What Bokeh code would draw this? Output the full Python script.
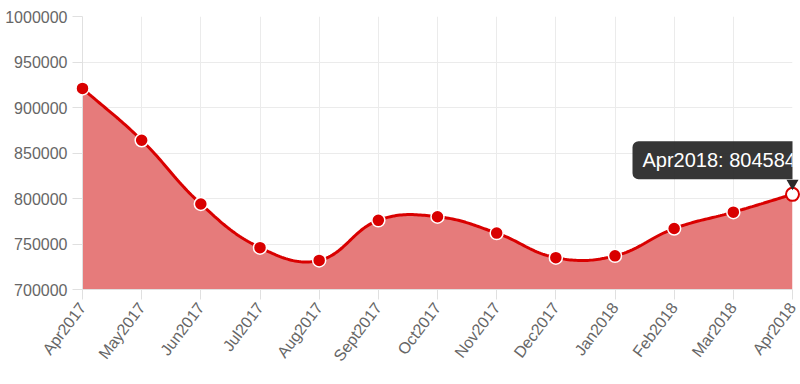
import math
from bokeh.plotting import figure
from bokeh.models import FixedTicker, Label, Range1d, BasicTickFormatter
from bokeh.embed import file_html
from bokeh.resources import INLINE

months = ["Apr2017", "May2017", "Jun2017", "Jul2017", "Aug2017", "Sept2017", "Oct2017",
          "Nov2017", "Dec2017", "Jan2018", "Feb2018", "Mar2018", "Apr2018"]
values = [921000, 864000, 794000, 746000, 732000, 776000, 780000,
          762000, 735000, 737000, 767000, 785000, 804584]
y_ticks = [700000, 750000, 800000, 850000, 900000, 950000, 1000000]
y_min, y_max = 700000, 1000000

n = len(months)
xs = list(range(n))

W, H = 800, 384
BL, BR, BT, BB = 82, 8, 16, 95

# Chart.js-style bezier spline (tension 0.4), computed in pixel space
FW, FH = float(W - BL - BR), float(H - BT - BB)
sx = FW / (n - 1)
sy = FH / (y_max - y_min)
P = [(xi * sx, (v - y_min) * sy) for xi, v in zip(xs, values)]
tension = 0.4
cp_prev, cp_next = [], []
for i in range(n):
    cur = P[i]
    prv = P[i - 1] if i > 0 else cur
    nxt = P[i + 1] if i < n - 1 else cur
    d01 = math.hypot(cur[0] - prv[0], cur[1] - prv[1])
    d12 = math.hypot(nxt[0] - cur[0], nxt[1] - cur[1])
    tot = d01 + d12
    s01 = d01 / tot if tot else 0
    s12 = d12 / tot if tot else 0
    fa, fb = tension * s01, tension * s12
    pc = (cur[0] - fa * (nxt[0] - prv[0]), cur[1] - fa * (nxt[1] - prv[1]))
    nc = (cur[0] + fb * (nxt[0] - prv[0]), cur[1] + fb * (nxt[1] - prv[1]))
    clamp = lambda q: (min(max(q[0], 0), FW), min(max(q[1], 0), FH))
    cp_prev.append(clamp(pc))
    cp_next.append(clamp(nc))

cx, cy = [], []
steps = 30
for i in range(n - 1):
    p0, p1, p2, p3 = P[i], cp_next[i], cp_prev[i + 1], P[i + 1]
    for k in range(steps + (1 if i == n - 2 else 0)):
        t = k / steps
        a = (1 - t) ** 3; b = 3 * (1 - t) ** 2 * t; c = 3 * (1 - t) * t ** 2; d = t ** 3
        X = a * p0[0] + b * p1[0] + c * p2[0] + d * p3[0]
        Y = a * p0[1] + b * p1[1] + c * p2[1] + d * p3[1]
        cx.append(X / sx)
        cy.append(Y / sy + y_min)

p = figure(width=W, height=H, output_backend="svg", toolbar_location=None,
           x_range=Range1d(0, n - 1), y_range=Range1d(y_min, y_max),
           min_border_left=BL, min_border_right=BR, min_border_top=BT, min_border_bottom=BB)
p.outline_line_color = None
p.background_fill_color = "white"
p.border_fill_color = "white"

red = "#d90000"
p.varea(x=cx, y1=[y_min] * len(cx), y2=cy, fill_color="#e67b7b", fill_alpha=1.0)
p.line(cx, cy, line_color=red, line_width=3)
p.scatter(xs[:-1], values[:-1], size=13, fill_color=red, line_color="white",
          line_width=1.5, level="overlay")
p.scatter(xs[-1:], values[-1:], size=13, fill_color="white", line_color=red,
          line_width=2, level="overlay")

# static tooltip
ptr_y = values[-1] + 11 / sy
p.scatter([xs[-1]], [ptr_y], marker="inverted_triangle", size=12,
          fill_color="#2b2b2b", line_color=None, level="overlay")
tip = Label(x=xs[-1], y=values[-1], x_offset=-160, y_offset=15,
            text=f"{months[-1]}: {values[-1]}", text_color="white",
            text_font="Liberation Sans", text_font_size="20px",
            background_fill_color="#2b2b2b", background_fill_alpha=0.95,
            padding=dict(left=10, right=6, top=8, bottom=8), border_radius=6,
            level="overlay")
p.add_layout(tip)

for ax in (p.xaxis[0], p.yaxis[0]):
    ax.axis_line_color = "#e0e0e0"
    ax.major_tick_line_color = "#e0e0e0"
    ax.major_tick_out = 10
    ax.major_tick_in = 0
    ax.major_label_standoff = 5
    ax.minor_tick_line_color = None
    ax.major_label_text_font = "Liberation Sans"
    ax.major_label_text_font_size = "16px"
    ax.major_label_text_color = "#666666"

p.xaxis.ticker = FixedTicker(ticks=xs)
p.xaxis.major_label_overrides = {i: m for i, m in enumerate(months)}
p.xaxis.major_label_orientation = math.radians(53)
p.yaxis.ticker = FixedTicker(ticks=y_ticks)
p.yaxis.formatter = BasicTickFormatter(use_scientific=False)

p.xgrid.ticker = FixedTicker(ticks=xs)
p.ygrid.ticker = FixedTicker(ticks=y_ticks)
p.xgrid.grid_line_color = "#ebebeb"
p.ygrid.grid_line_color = "#ebebeb"

open("out.html", "w").write(file_html(p, INLINE))
